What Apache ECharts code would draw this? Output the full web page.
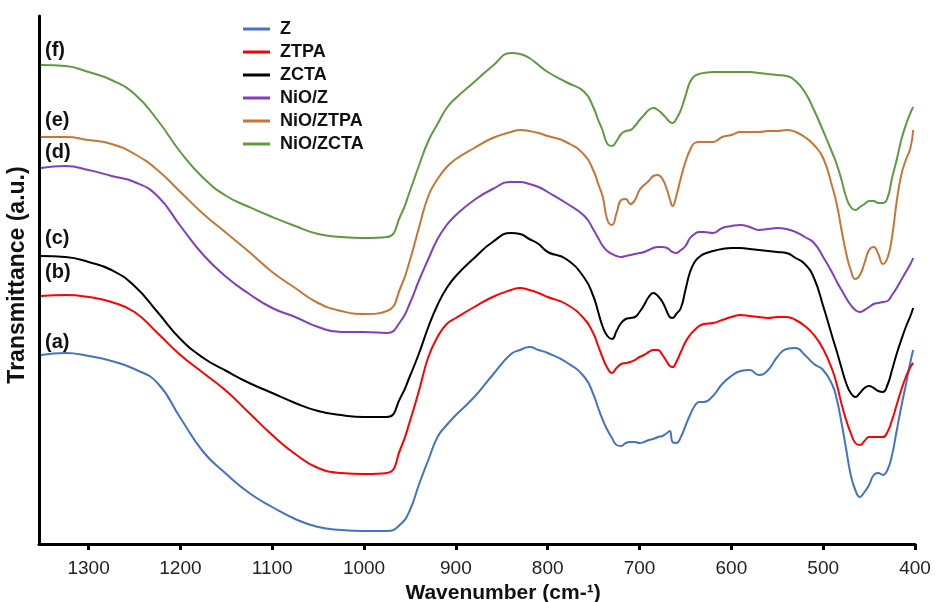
<!DOCTYPE html>
<html>
<head>
<meta charset="utf-8">
<title>FTIR</title>
<script src="https://cdn.jsdelivr.net/npm/echarts@6.0.0/dist/echarts.min.js"></script>
<style>
  html, body { margin: 0; padding: 0; background: #fff; }
  #main { width: 936px; height: 602px; }
</style>
</head>
<body>
<div id="main"></div>
<script type="text/javascript">
// wavenumbers (cm-1), shared by every spectrum
var wavenumbers = [1352, 1325, 1300, 1275, 1250, 1225, 1200, 1175, 1150, 1125,
  1100, 1075, 1050, 1025, 1000, 975, 960, 950, 940, 930,
  920, 910, 900, 880, 860, 840, 830, 820, 810, 800,
  780, 760, 750, 745, 740, 735, 730, 725, 720, 715,
  710, 705, 700, 695, 690, 685, 680, 675, 670, 667,
  664, 660, 655, 650, 645, 640, 635, 630, 620, 610,
  600, 590, 580, 570, 560, 550, 540, 530, 520, 510,
  500, 490, 485, 480, 475, 470, 465, 460, 455, 450,
  445, 440, 435, 430, 425, 420, 415, 410, 405, 402];

// transmittance, arbitrary units (curves are offset)
var Z = [189, 191, 188, 183, 175, 161, 126, 92, 70, 51,
  37, 25, 17, 14, 13, 13, 20, 34, 60, 84,
  107, 119, 129, 147, 169, 190, 194, 197, 194, 191,
  182, 167, 149, 136, 124, 114, 106, 99, 98, 101,
  102, 102, 101, 102, 104, 105, 107, 108, 111, 113,
  102, 101, 107, 118, 129, 138, 142, 142, 148, 160,
  168, 173, 174, 169, 174, 187, 195, 196, 189, 180,
  174, 159, 144, 121, 95, 69, 54, 47, 52, 59,
  69, 71, 69, 74, 89, 113, 137, 159, 182, 194];
var ZTPA = [248, 249, 247, 242, 232, 211, 189, 171, 153, 131,
  109, 90, 76, 71, 70, 71, 96, 123, 154, 187,
  207, 220, 226, 237, 247, 254, 256, 254, 251, 247,
  240, 225, 210, 198, 186, 176, 171, 176, 180, 181,
  182, 184, 187, 189, 192, 194, 194, 189, 182, 178,
  177, 182, 192, 202, 209, 214, 218, 220, 221, 224,
  227, 229, 228, 227, 226, 227, 227, 224, 218, 209,
  195, 174, 159, 140, 124, 111, 101, 99, 103, 107,
  107, 107, 107, 112, 124, 139, 154, 167, 177, 181];
var ZCTA = [288, 287, 282, 274, 258, 232, 205, 186, 173, 161,
  151, 141, 133, 129, 127, 127, 147, 168, 191, 217,
  239, 256, 268, 286, 302, 311, 310, 305, 300, 292,
  285, 266, 247, 232, 217, 208, 205, 213, 221, 225,
  226, 227, 232, 239, 247, 251, 248, 242, 232, 227,
  226, 230, 236, 254, 272, 282, 287, 290, 293, 295,
  296, 296, 295, 294, 293, 292, 291, 286, 280, 266,
  238, 207, 192, 176, 161, 151, 147, 151, 156, 158,
  156, 153, 152, 159, 174, 190, 204, 217, 228, 236];
var NiO_Z = [376, 378, 374, 368, 362, 348, 318, 289, 267, 250,
  236, 227, 217, 212, 212, 211, 223, 241, 264, 285,
  305, 319, 329, 344, 355, 362, 362, 360, 357, 352,
  341, 328, 314, 306, 298, 293, 290, 288, 287, 288,
  289, 290, 291, 292, 294, 296, 297, 297, 296, 294,
  292, 291, 294, 298, 306, 310, 312, 312, 311, 316,
  318, 319, 317, 314, 315, 316, 315, 312, 307, 301,
  287, 271, 262, 254, 246, 239, 234, 232, 234, 237,
  240, 241, 242, 243, 249, 256, 264, 272, 280, 286];
var NiO_ZTPA = [407, 407, 404, 400, 390, 374, 352, 330, 311, 292,
  272, 256, 241, 233, 230, 233, 257, 284, 317, 348,
  365, 377, 385, 396, 406, 412, 414, 413, 411, 408,
  402, 389, 373, 360, 347, 324, 319, 331, 344, 345,
  340, 344, 354, 359, 363, 368, 369, 365, 354, 345,
  338, 348, 366, 382, 394, 401, 402, 402, 402, 407,
  409, 412, 412, 412, 413, 413, 414, 412, 407, 399,
  386, 357, 339, 314, 291, 274, 265, 269, 281, 294,
  297, 290, 280, 286, 307, 342, 369, 384, 396, 414];
var NiO_ZCTA = [479, 478, 472, 464, 450, 424, 392, 366, 348, 337,
  327, 318, 310, 307, 306, 307, 329, 353, 379, 403,
  420, 436, 446, 462, 478, 491, 490, 486, 479, 472,
  462, 452, 436, 424, 413, 400, 398, 403, 410, 413,
  414, 418, 424, 429, 434, 436, 434, 430, 425, 422,
  421, 425, 434, 448, 462, 468, 470, 471, 472, 472,
  472, 472, 472, 471, 470, 469, 468, 463, 452, 434,
  413, 391, 379, 364, 347, 337, 334, 337, 340, 343,
  343, 341, 341, 346, 366, 384, 404, 419, 431, 437];

var seriesNames = ['Z', 'ZTPA', 'ZCTA', 'NiO/Z', 'NiO/ZTPA', 'NiO/ZCTA'];
var seriesValues = [Z, ZTPA, ZCTA, NiO_Z, NiO_ZTPA, NiO_ZCTA];
var colors = ['#4472C4', '#FF0000', '#000000', '#7F3FBF', '#C87533', '#5E9A3E'];
var xTicks = [400, 500, 600, 700, 800, 900, 1000, 1100, 1200, 1300];

var myChart = echarts.init(document.getElementById('main'), null, { renderer: 'canvas' });

var FONT = 'Liberation Sans, Arial, sans-serif';

function pairs(vals) {
  return wavenumbers.map(function (w, i) { return [w, vals[i]]; });
}

var series = seriesNames.map(function (name, k) {
  return {
    name: name,
    type: 'line',
    data: pairs(seriesValues[k]),
    showSymbol: false,
    symbol: 'none',
    smooth: 0.5,
    lineStyle: { color: colors[k], width: 2 },
    itemStyle: { color: colors[k] },
    z: 3
  };
});

// curve tags, placed beside the left end of each spectrum
var tags = [
  { text: '(f)', top: 40 },
  { text: '(e)', top: 110 },
  { text: '(d)', top: 142 },
  { text: '(c)', top: 228 },
  { text: '(b)', top: 262 },
  { text: '(a)', top: 332 }
];

var option = {
  animation: false,
  backgroundColor: '#fff',
  color: colors,
  grid: { left: 39, right: 21, top: 16, bottom: 58, outerBoundsMode: 'none', containLabel: false },
  legend: {
    orient: 'vertical',
    left: 243,
    top: 20,
    padding: 0,
    icon: 'rect',
    itemWidth: 27,
    itemHeight: 3,
    itemGap: 5,
    textStyle: {
      fontFamily: FONT, fontSize: 18, fontWeight: 'bold', color: '#111',
      lineHeight: 17, padding: [0, 0, 0, 5]
    },
    data: seriesNames
  },
  xAxis: {
    type: 'value',
    inverse: true,
    min: 400,
    max: 1354,
    name: 'Wavenumber (cm-¹)',
    nameLocation: 'middle',
    nameGap: 31,
    nameTextStyle: {
      fontFamily: FONT, fontSize: 21, fontWeight: 'bold', color: '#111',
      padding: [0, 0, 0, 52]
    },
    axisLine: { show: true, lineStyle: { color: '#000', width: 3 } },
    axisTick: {
      show: true, inside: false, length: 6,
      lineStyle: { color: '#000', width: 3 },
      customValues: xTicks
    },
    axisLabel: {
      fontFamily: FONT, fontSize: 19, color: '#222', margin: 15,
      customValues: xTicks,
      formatter: function (v) { return String(v); }
    },
    splitLine: { show: false }
  },
  yAxis: {
    type: 'value',
    min: 0,
    max: 528,
    name: 'Transmittance (a.u.)',
    nameLocation: 'middle',
    nameRotate: 90,
    nameGap: 10,
    nameTextStyle: {
      fontFamily: FONT, fontSize: 23, fontWeight: 'bold', color: '#111',
      padding: [0, 0, 0, 10]
    },
    axisLine: { show: true, lineStyle: { color: '#000', width: 3 } },
    axisTick: { show: false },
    axisLabel: { show: false },
    splitLine: { show: false }
  },
  graphic: tags.map(function (t) {
    return {
      type: 'text',
      left: 45,
      top: t.top,
      style: { text: t.text, font: 'bold 20px ' + FONT, fill: '#111' },
      z: 10
    };
  }),
  series: series
};

myChart.setOption(option);
</script>
</body>
</html>
